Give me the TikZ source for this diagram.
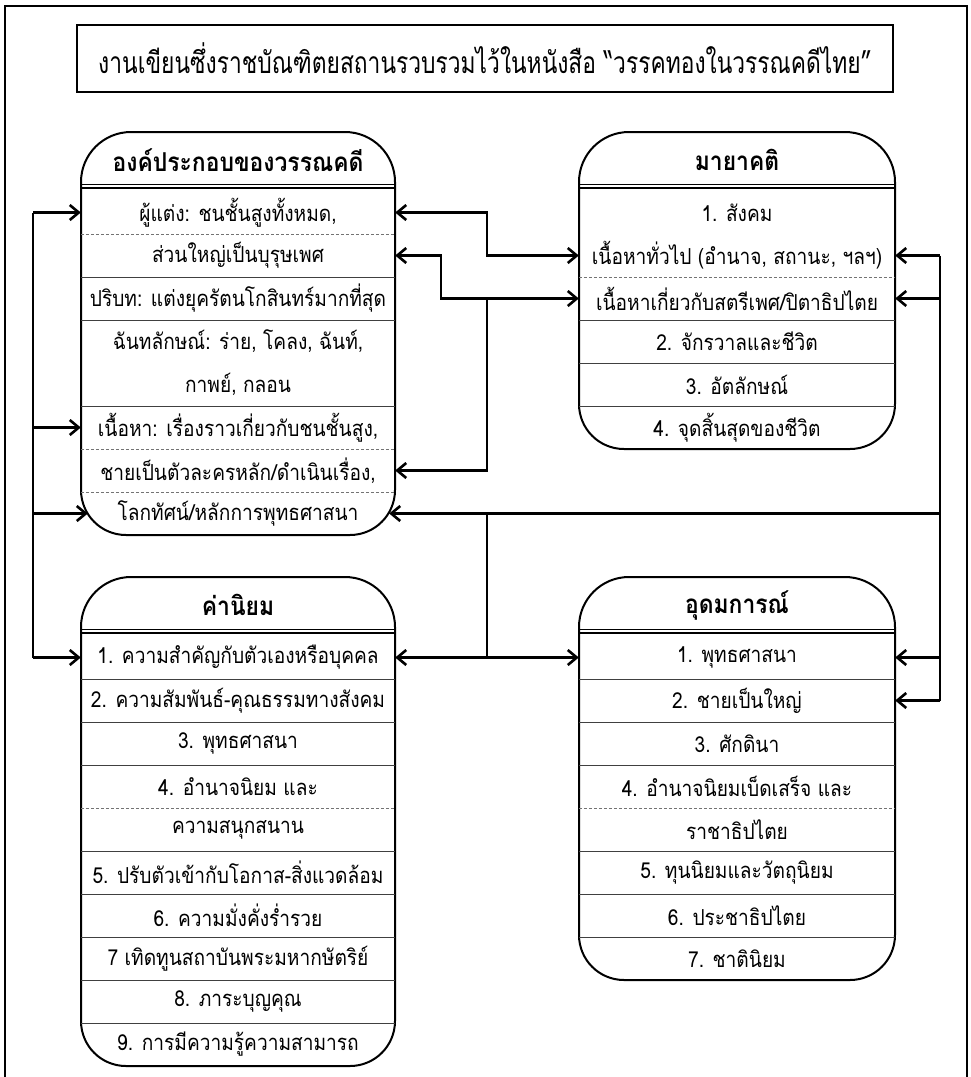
\documentclass[tikz,border=0pt]{standalone}
\usepackage{fontspec}
\setmainfont[Script=Thai,FakeStretch=0.87]{Loma}
\newfontfamily\titlefam[Script=Thai,FakeStretch=0.76]{Loma}
\newfontfamily\headfam[Script=Thai,FakeStretch=0.88]{Loma}
\usetikzlibrary{arrows.meta}
\newcommand\rowfont{\fontsize{22}{26}\selectfont}
\newcommand\headfont{\headfam\fontsize{26}{30}\selectfont\bfseries}
\newcommand\titlefont{\titlefam\fontsize{30}{34}\selectfont}
\begin{document}
\begin{tikzpicture}[x=1pt,y=-1pt,
  boxline/.style={line width=2pt},
  sepline/.style={line width=0.9pt, draw=black!75},
  dsep/.style={line width=0.8pt, draw=black!55, dash pattern=on 3pt off 2pt},
  conn/.style={line width=2.6pt},
  tip/.style={-{Straight Barb[length=9pt,width=15pt]}},
  tips/.style={{Straight Barb[length=9pt,width=15pt]}-{Straight Barb[length=9pt,width=15pt]}},
  rowL/.style={inner sep=0pt, minimum width=314pt, minimum height=43pt, font=\rowfont},
  rowR/.style={inner sep=0pt, minimum width=316pt, minimum height=43pt, font=\rowfont},
  headL/.style={inner sep=0pt, minimum width=314pt, minimum height=56pt, font=\headfont},
  headR/.style={inner sep=0pt, minimum width=316pt, minimum height=56pt, font=\headfont},
]
\useasboundingbox (0,0) rectangle (970,1077);
% outer frame
\draw[line width=2pt] (5,1077) -- (5,6) -- (967,6) -- (967,1077);
% title
\node[draw, line width=2pt, minimum width=816pt, minimum height=67pt, inner sep=0pt, font=\titlefont] (title) at (485,58.5)
  {งานเขียนซึ่งราชบัณฑิตยสถานรวบรวมไว้ในหนังสือ “วรรคทองในวรรณคดีไทย”};

% ---------- Box A ----------
\draw[boxline] (81,300) [rounded corners=50pt] -- (81,132) -- (395,132) -- (395,300) [rounded corners=45pt] -- (395,535) -- (81,535) -- cycle;
\node[headL] (hA) at (238,160) {องค์ประกอบของวรรณคดี};
\node[rowL] (rA1) at (238,212.5) {ผู้แต่ง: ชนชั้นสูงทั้งหมด,};
\node[rowL] (rA2) at (238,255.5) {ส่วนใหญ่เป็นบุรุษเพศ};
\node[rowL] (rA3) at (238,298.5) {ปริบท: แต่งยุครัตนโกสินทร์มากที่สุด};
\node[rowL] (rA4) at (238,341.5) {ฉันทลักษณ์: ร่าย, โคลง, ฉันท์,};
\node[rowL] (rA5) at (238,384.5) {กาพย์, กลอน};
\node[rowL] (rA6) at (238,427.5) {เนื้อหา: เรื่องราวเกี่ยวกับชนชั้นสูง,};
\node[rowL] (rA7) at (238,470.5) {ชายเป็นตัวละครหลัก/ดำเนินเรื่อง,};
\node[rowL] (rA8) at (238,513.5) {โลกทัศน์/หลักการพุทธศาสนา};
\draw[line width=2pt] (hA.south west) -- (hA.south east);
\draw[line width=0.8pt] ([yshift=3.5pt]hA.south west) -- ([yshift=3.5pt]hA.south east);
\draw[dsep] (rA1.south west) -- (rA1.south east);
\draw[sepline] (rA2.south west) -- (rA2.south east);
\draw[sepline] (rA3.south west) -- (rA3.south east);
\draw[sepline] (rA5.south west) -- (rA5.south east);
\draw[dsep] (rA6.south west) -- (rA6.south east);
\draw[dsep] (rA7.south west) -- (rA7.south east);

% ---------- Box B ----------
\draw[boxline] (579,300) [rounded corners=50pt] -- (579,132) -- (895,132) -- (895,300) [rounded corners=45pt] -- (895,449) -- (579,449) -- cycle;
\node[headR] (hB) at (737,160) {มายาคติ};
\node[rowR] (rB1) at (737,212.5) {1. สังคม};
\node[rowR] (rB2) at (737,255.5) {เนื้อหาทั่วไป (อำนาจ, สถานะ, ฯลฯ)};
\node[rowR] (rB3) at (737,298.5) {เนื้อหาเกี่ยวกับสตรีเพศ/ปิตาธิปไตย};
\node[rowR] (rB4) at (737,341.5) {2. จักรวาลและชีวิต};
\node[rowR] (rB5) at (737,384.5) {3. อัตลักษณ์};
\node[rowR] (rB6) at (737,427.5) {4. จุดสิ้นสุดของชีวิต};
\draw[line width=2pt] (hB.south west) -- (hB.south east);
\draw[line width=0.8pt] ([yshift=3.5pt]hB.south west) -- ([yshift=3.5pt]hB.south east);
\draw[dsep] (rB2.south west) -- (rB2.south east);
\draw[sepline] (rB3.south west) -- (rB3.south east);
\draw[sepline] (rB4.south west) -- (rB4.south east);
\draw[sepline] (rB5.south west) -- (rB5.south east);

% ---------- Box C ----------
\draw[boxline] (81,700) [rounded corners=50pt] -- (81,577) -- (395,577) -- (395,700) [rounded corners=45pt] -- (395,1066) -- (81,1066) -- cycle;
\node[headL] (hC) at (238,605) {ค่านิยม};
\node[rowL] (rC1) at (238,657.5) {1. ความสำคัญกับตัวเองหรือบุคคล};
\node[rowL] (rC2) at (238,700.5) {2. ความสัมพันธ์-คุณธรรมทางสังคม};
\node[rowL] (rC3) at (238,743.5) {3. พุทธศาสนา};
\node[rowL] (rC4) at (238,786.5) {4. อำนาจนิยม และ};
\node[rowL] (rC5) at (238,829.5) {ความสนุกสนาน};
\node[rowL] (rC6) at (238,872.5) {5. ปรับตัวเข้ากับโอกาส-สิ่งแวดล้อม};
\node[rowL] (rC7) at (238,915.5) {6. ความมั่งคั่งร่ำรวย};
\node[rowL] (rC8) at (238,958.5) {7 เทิดทูนสถาบันพระมหากษัตริย์};
\node[rowL] (rC9) at (238,1001.5) {8. ภาระบุญคุณ};
\node[rowL] (rC10) at (238,1044.5) {9. การมีความรู้ความสามารถ};
\draw[line width=2pt] (hC.south west) -- (hC.south east);
\draw[line width=0.8pt] ([yshift=3.5pt]hC.south west) -- ([yshift=3.5pt]hC.south east);
\foreach \r in {rC1,rC2,rC3,rC5,rC6,rC7,rC8,rC9} \draw[sepline] (\r.south west) -- (\r.south east);
\draw[dsep] (rC4.south west) -- (rC4.south east);

% ---------- Box D ----------
\draw[boxline] (579,700) [rounded corners=50pt] -- (579,577) -- (895,577) -- (895,700) [rounded corners=45pt] -- (895,980) -- (579,980) -- cycle;
\node[headR] (hD) at (737,605) {อุดมการณ์};
\node[rowR] (rD1) at (737,657.5) {1. พุทธศาสนา};
\node[rowR] (rD2) at (737,700.5) {2. ชายเป็นใหญ่};
\node[rowR] (rD3) at (737,743.5) {3. ศักดินา};
\node[rowR] (rD4) at (737,786.5) {4. อำนาจนิยมเบ็ดเสร็จ และ};
\node[rowR] (rD5) at (737,829.5) {ราชาธิปไตย};
\node[rowR] (rD6) at (737,872.5) {5. ทุนนิยมและวัตถุนิยม};
\node[rowR] (rD7) at (737,915.5) {6. ประชาธิปไตย};
\node[rowR] (rD8) at (737,958.5) {7. ชาตินิยม};
\draw[line width=2pt] (hD.south west) -- (hD.south east);
\draw[line width=0.8pt] ([yshift=3.5pt]hD.south west) -- ([yshift=3.5pt]hD.south east);
\foreach \r in {rD1,rD2,rD3,rD5,rD6,rD7} \draw[sepline] (\r.south west) -- (\r.south east);
\draw[dsep] (rD4.south west) -- (rD4.south east);

% ---------- connectors ----------
\coordinate (Ltop) at (33,212.5);
\coordinate (Lbot) at (33,657.5);
\coordinate (Rtop) at (940,255.5);
\coordinate (Rbot) at (940,700.5);
\coordinate (M1) at (487,0);
\coordinate (M2) at (441,0);

% left loop
\draw[conn] (Ltop) -- (Lbot);
\draw[conn,tip] (Ltop) -- (rA1.west);
\draw[conn,tip] (rA6.west -| Ltop) -- (rA6.west);
\draw[conn,tip] (rA8.west -| Ltop) -- ([xshift=7pt]rA8.west);
\draw[conn,tip] (Lbot) -- (rC1.west);

% right loop
\draw[conn] (Rtop) -- (Rbot);
\draw[conn,tip] (Rtop) -- (rB2.east);
\draw[conn,tip] (rB3.east -| Rtop) -- (rB3.east);
\draw[conn,tip] (rA8.east -| Rtop) -- ([xshift=-6pt]rA8.east);
\draw[conn,tip] (rD1.east -| Rtop) -- (rD1.east);
\draw[conn,tip] (Rbot) -- (rD2.east);

% middle
\draw[conn,tips] (rA1.east) -- (rA1.east -| M1) -- (rB2.west -| M1) -- (rB2.west);
\draw[conn,tips] (rA2.east) -- (rA2.east -| M2) -- (rB3.west -| M2) -- (rB3.west);
\draw[conn,tip] (rB3.west -| M1) -- (rA7.east -| M1) -- (rA7.east);
\draw[conn,tips] (rC1.east) -- (rD1.west);
\draw[conn] (rC1.east -| M1) -- (rA8.east -| M1);
\end{tikzpicture}
\end{document}
